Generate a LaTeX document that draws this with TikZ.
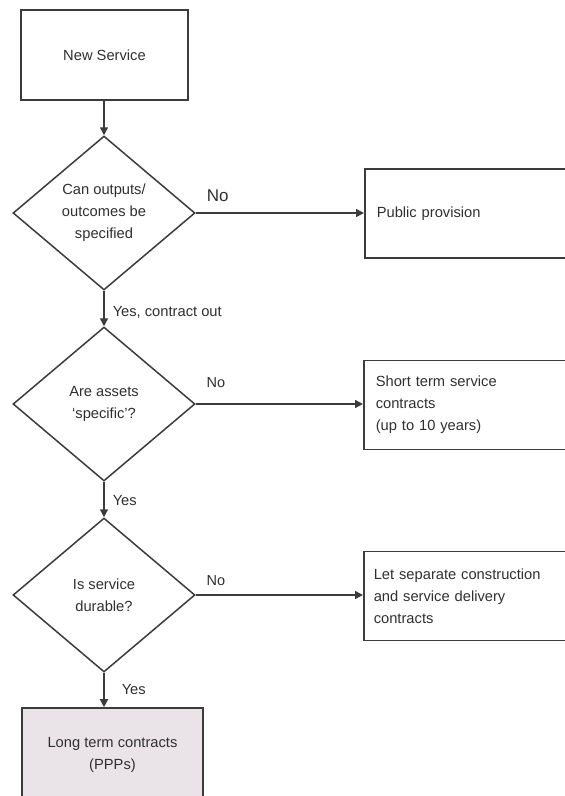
\documentclass[tikz,border=0pt]{standalone}
\usepackage{fontspec}
\setmainfont{Liberation Sans}
\usetikzlibrary{shapes.geometric,arrows.meta}
\definecolor{ink}{HTML}{303030}
\definecolor{edge}{HTML}{3C3C3C}
\definecolor{pppfill}{HTML}{EAE4E9}
\tikzset{
  base/.style={font=\fontsize{14.7pt}{22pt}\selectfont, text=ink},
  box/.style={base, draw=edge, line width=1.6pt, rectangle, inner sep=0pt},
  sidebox/.style={box, anchor=west, minimum width=260pt, minimum height=89pt,
    align=left, text width=240pt},
  decision/.style={base, draw=edge, line width=1.5pt, diamond, inner sep=0pt,
    minimum width=182pt, minimum height=154pt, align=center},
  arr/.style={draw=edge, line width=1.5pt, -{Triangle[length=8pt,width=8pt]}},
  lbl/.style={base, inner sep=0pt}
}
\begin{document}
\begin{tikzpicture}[x=1pt, y=-1pt]
  \clip (0,0) rectangle (565,796);
  \fill[white] (0,0) rectangle (565,796);

  % main column
  \node[box, minimum width=167pt, minimum height=90pt] (start) at (104.5,55) {New Service};
  \node[decision] (d1) at (104,213) {Can outputs/\\outcomes be\\specified};
  \node[decision] (d2) at (104,404) {Are assets\\`specific'?};
  \node[decision] (d3) at (104,595) {Is service\\durable?};
  \node[box, fill=pppfill, minimum width=181pt, minimum height=93pt, align=center]
    (ppp) at (112.5,754.5) {Long term contracts\\(PPPs)};

  % outcomes on the right
  \node[sidebox, inner xsep=12pt] (pub) at (364,213.5) {Public provision};
  \node[sidebox, inner xsep=12pt] (short) at (363,405) {Short term service\\contracts\\(up to 10 years)};
  \node[sidebox, inner xsep=7pt] (sep) at (363,596) {Let separate construction\\and service delivery\\contracts};

  % connectors down the main column
  \draw[arr] (start.south -| d1.north) -- (d1.north);
  \draw[arr] (d1.south) -- node[lbl, anchor=west, xshift=8pt, yshift=-4pt] (l1) {Yes, contract out} (d2.north);
  \draw[arr] (d2.south) -- node[lbl, anchor=west, xshift=8pt, yshift=-1pt] (l2) {Yes} (d3.north);
  \draw[arr] (d3.south) -- node[lbl, anchor=west, xshift=17pt, yshift=0pt] (l3) {Yes} (d3.south |- ppp.north);

  % "No" branches to the right
  \draw[arr] (d1.east) -- node[lbl, pos=0.13, yshift=17pt, font=\fontsize{17pt}{20pt}\selectfont] (n1) {No} (d1.east -| pub.west);
  \draw[arr] (d2.east) -- node[lbl, pos=0.12, yshift=21pt, font=\fontsize{14.5pt}{20pt}\selectfont] (n2) {No} (d2.east -| short.west);
  \draw[arr] (d3.east) -- node[lbl, pos=0.12, yshift=14pt, font=\fontsize{14.5pt}{20pt}\selectfont] (n3) {No} (d3.east -| sep.west);
\end{tikzpicture}
\end{document}
